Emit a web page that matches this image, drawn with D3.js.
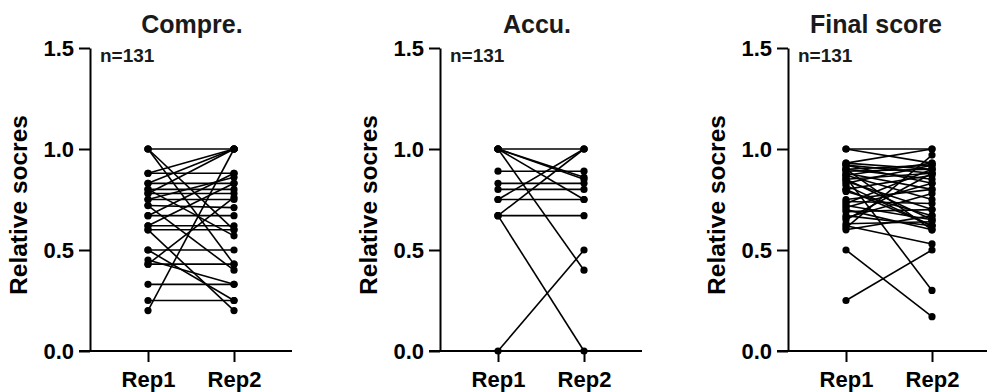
<!DOCTYPE html>
<html>
<head>
<meta charset="utf-8">
<script src="https://cdn.jsdelivr.net/npm/d3@7"></script>
<style>
  body { margin: 0; background: #fff; }
  svg { display: block; font-family: 'Liberation Sans', Arial, sans-serif; }
</style>
</head>
<body>
<svg id="chart" width="987" height="392"></svg>
<script>
const reps = ['Rep1', 'Rep2']
const yTicks = [0, 0.5, 1.0, 1.5]
const titles = ['Compre.', 'Accu.', 'Final score']
const nLabel = 'n=131'
const yLabel = 'Relative socres'

// paired scores [Rep1, Rep2]
const compre = [
  [1.0, 1.0], [1.0, 0.6], [1.0, 0.43],
  [0.88, 1.0], [0.88, 0.88],
  [0.83, 0.83], [0.83, 1.0],
  [0.8, 0.8], [0.8, 0.57],
  [0.78, 0.78], [0.78, 1.0],
  [0.75, 0.75], [0.75, 0.86],
  [0.72, 0.71], [0.72, 0.4],
  [0.67, 0.67], [0.67, 0.88],
  [0.62, 0.62], [0.62, 0.83],
  [0.6, 0.6], [0.6, 0.2],
  [0.5, 0.5], [0.5, 0.25],
  [0.45, 0.33], [0.43, 0.43], [0.43, 0.76],
  [0.33, 0.33], [0.25, 0.25], [0.2, 1.0]
]

const accu = [
  [1.0, 1.0], [1.0, 0.86], [1.0, 0.85], [1.0, 0.75], [1.0, 0.4],
  [0.89, 0.89], [0.83, 0.83], [0.8, 0.8], [0.75, 0.75], [0.75, 1.0],
  [0.67, 0.67], [0.67, 1.0], [0.67, 0.0], [0.0, 0.5]
]

const finalScore = [
  [1.0, 1.0], [1.0, 0.93],
  [0.93, 0.9], [0.93, 1.0],
  [0.92, 0.88], [0.92, 0.83],
  [0.9, 0.92], [0.9, 0.85],
  [0.89, 0.9], [0.88, 0.8],
  [0.87, 0.93], [0.87, 0.75],
  [0.86, 0.3], [0.85, 0.88],
  [0.84, 0.7], [0.83, 0.92],
  [0.82, 0.62], [0.8, 0.87],
  [0.79, 0.67], [0.75, 0.8],
  [0.74, 0.73], [0.73, 0.9],
  [0.72, 0.65], [0.71, 0.83],
  [0.7, 0.6], [0.69, 0.7],
  [0.67, 0.62], [0.66, 0.78],
  [0.65, 0.88], [0.63, 0.64],
  [0.62, 0.53], [0.61, 0.97],
  [0.6, 0.67], [0.5, 0.17], [0.25, 0.5],
  [0.8, 0.62], [0.85, 0.65], [0.9, 0.6]
]

const panels = [compre, accu, finalScore]
const axisX = [90, 440, 788]
const titleX = [192, 537, 876]

const svg = d3.select('#chart')
const y = d3.scaleLinear().domain([0, 1.5]).range([351, 48])

panels.forEach((data, i) => {
  const x0 = axisX[i]
  const g = svg.append('g')
  const x = d3.scalePoint().domain(reps).range([x0 + 58, x0 + 144])

  // title
  g.append('text')
    .attr('x', titleX[i])
    .attr('y', 33)
    .attr('text-anchor', 'middle')
    .attr('font-size', 25)
    .attr('font-weight', 'bold')
    .attr('fill', '#1a1a1a')
    .text(titles[i])

  // n label
  g.append('text')
    .attr('x', x0 + 10)
    .attr('y', 62)
    .attr('font-size', 19)
    .attr('font-weight', 'bold')
    .attr('fill', '#1a1a1a')
    .text(nLabel)

  // y label
  g.append('text')
    .attr('transform', `translate(${x0 - 63},205) rotate(-90)`)
    .attr('text-anchor', 'middle')
    .attr('font-size', 24.5)
    .attr('font-weight', 'bold')
    .attr('fill', '#000')
    .text(yLabel)

  // y axis
  const yAxis = g.append('g')
    .attr('transform', `translate(${x0},0)`)
    .call(d3.axisLeft(y).tickValues(yTicks).tickFormat(d3.format('.1f')).tickSize(11).tickSizeOuter(0).tickPadding(5))
  yAxis.selectAll('path, line').attr('stroke', '#000').attr('stroke-width', 2)
  yAxis.selectAll('text').attr('font-size', 22).attr('font-weight', 'bold').attr('fill', '#000')
    .attr('font-family', 'Liberation Sans, Arial, sans-serif')

  // x axis
  const xAxis = g.append('g')
    .attr('transform', `translate(0,${y(0)})`)
    .call(d3.axisBottom(x).tickSize(11).tickPadding(9))
  xAxis.select('.domain').remove()
  xAxis.append('line')
    .attr('x1', x0 - 11).attr('x2', x0 + 202)
    .attr('stroke', '#000').attr('stroke-width', 2)
  xAxis.selectAll('line').attr('stroke', '#000').attr('stroke-width', 2)
  xAxis.selectAll('text').attr('font-size', 22).attr('font-weight', 'bold').attr('fill', '#000')
    .attr('font-family', 'Liberation Sans, Arial, sans-serif')

  // paired lines
  g.append('g')
    .selectAll('line')
    .data(data)
    .join('line')
    .attr('x1', x('Rep1'))
    .attr('x2', x('Rep2'))
    .attr('y1', (d) => y(d[0]))
    .attr('y2', (d) => y(d[1]))
    .attr('stroke', '#000')
    .attr('stroke-width', 1.6)

  // dots
  const pts = data.flatMap((d) => [{ r: 'Rep1', v: d[0] }, { r: 'Rep2', v: d[1] }])
  g.append('g')
    .selectAll('circle')
    .data(pts)
    .join('circle')
    .attr('cx', (d) => x(d.r))
    .attr('cy', (d) => y(d.v))
    .attr('r', 3.6)
    .attr('fill', '#000')
})
</script>
</body>
</html>
